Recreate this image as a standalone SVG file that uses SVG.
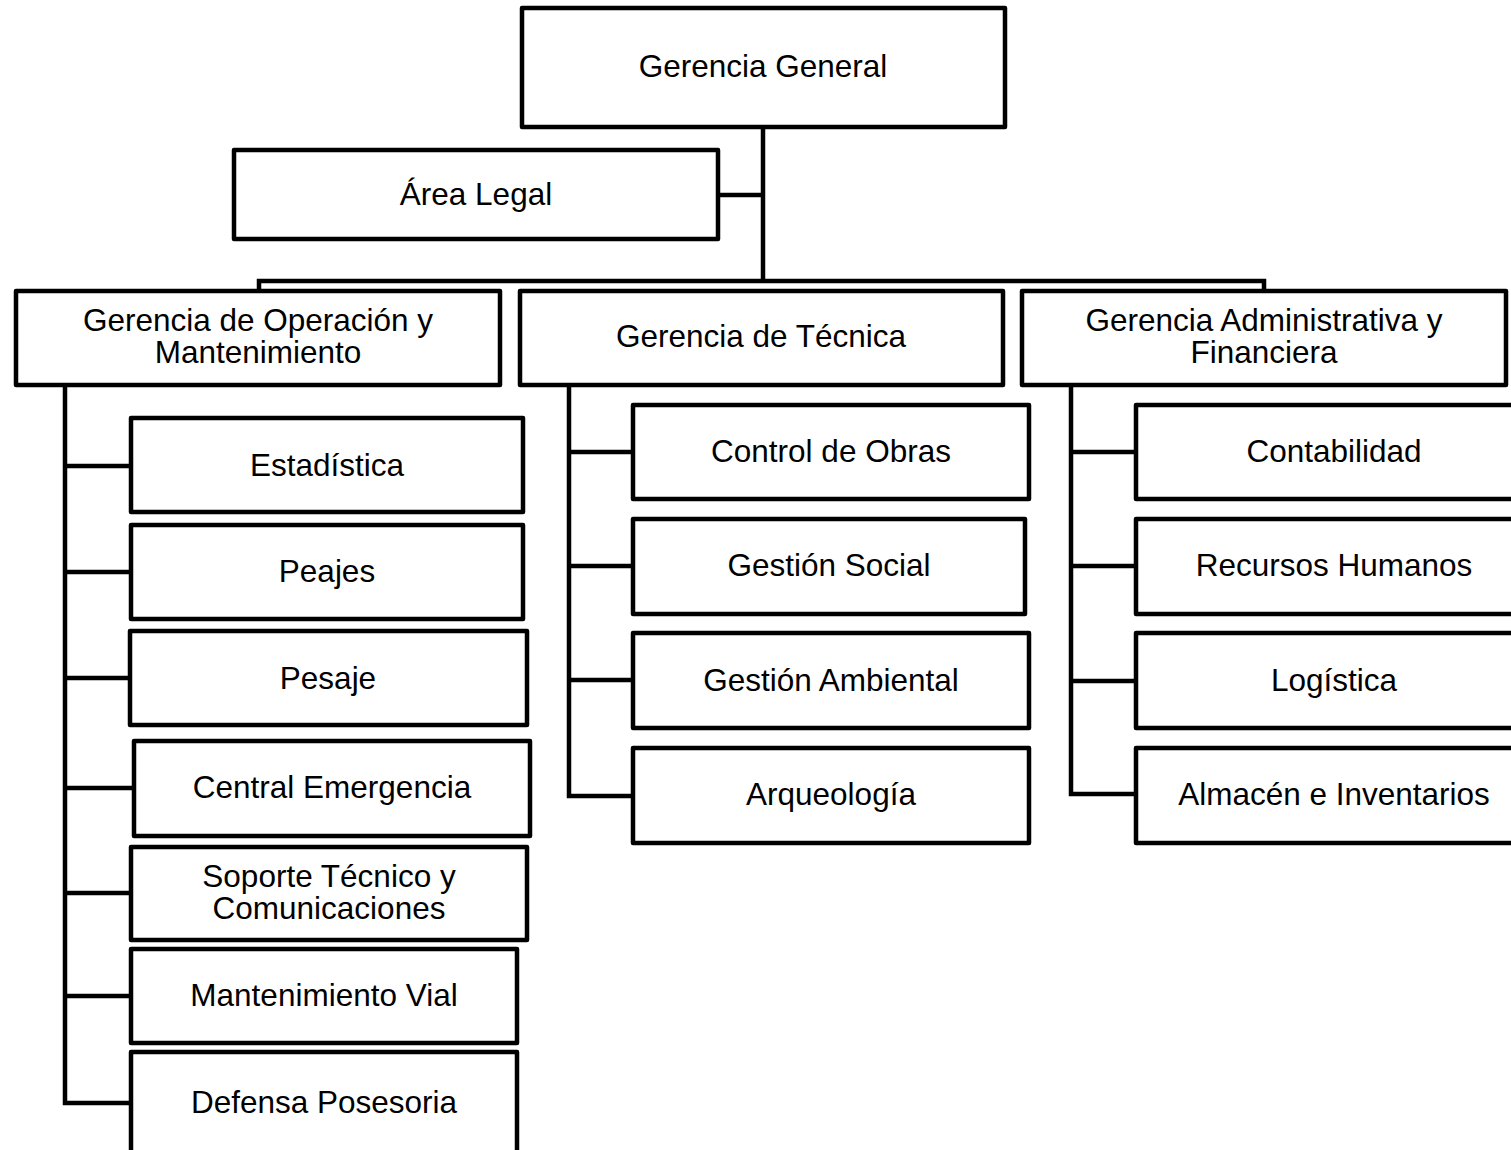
<svg xmlns="http://www.w3.org/2000/svg" width="1511" height="1150" viewBox="0 0 1511 1150">
<style>
.box{fill:#fff;stroke:#000;stroke-width:4.5;stroke-linejoin:round}
.t{font-family:"Liberation Sans",Arial,sans-serif;font-size:31.5px;fill:#000;text-anchor:middle}
.c{fill:none;stroke:#000;stroke-width:4.5;stroke-linecap:square;stroke-linejoin:miter}
</style>
<rect width="1511" height="1150" fill="#fff"/>
<g id="connectors">
<path class="c" d="M763,127 V281 M718,195 H763 M259,290 V281 H1264 V290"/>
<path class="c" d="M65,385 V1103 M65,466 H131 M65,572 H131 M65,678 H130 M65,788 H134 M65,893 H131 M65,996 H131 M65,1103 H131"/>
<path class="c" d="M569,385 V796 M569,452 H633 M569,566 H633 M569,680 H633 M569,796 H633"/>
<path class="c" d="M1071,385 V794 M1071,452 H1136 M1071,566 H1136 M1071,681 H1136 M1071,794 H1136"/>
</g>
<g id="gerencia-general"><rect class="box" x="522" y="8" width="483" height="119"/><text class="t" x="763" y="77">Gerencia General</text></g>
<g id="area-legal"><rect class="box" x="234" y="150" width="484" height="89"/><text class="t" x="476" y="205">Área Legal</text></g>
<g id="gerencia-operacion"><rect class="box" x="16" y="291" width="484" height="94"/><text class="t" x="258" y="331">Gerencia de Operación y</text><text class="t" x="258" y="363">Mantenimiento</text></g>
<g id="gerencia-tecnica"><rect class="box" x="520" y="291" width="483" height="94"/><text class="t" x="761" y="347">Gerencia de Técnica</text></g>
<g id="gerencia-administrativa"><rect class="box" x="1022" y="291" width="484" height="94"/><text class="t" x="1264" y="331">Gerencia Administrativa y</text><text class="t" x="1264" y="363">Financiera</text></g>
<g id="estadistica"><rect class="box" x="131" y="418" width="392" height="94"/><text class="t" x="327" y="476">Estadística</text></g>
<g id="peajes"><rect class="box" x="131" y="525" width="392" height="94"/><text class="t" x="327" y="582">Peajes</text></g>
<g id="pesaje"><rect class="box" x="130" y="631" width="397" height="94"/><text class="t" x="328" y="689">Pesaje</text></g>
<g id="central-emergencia"><rect class="box" x="134" y="741" width="396" height="95"/><text class="t" x="332" y="798">Central Emergencia</text></g>
<g id="soporte-tecnico"><rect class="box" x="131" y="847" width="396" height="93"/><text class="t" x="329" y="887">Soporte Técnico y</text><text class="t" x="329" y="919">Comunicaciones</text></g>
<g id="mantenimiento-vial"><rect class="box" x="131" y="949" width="386" height="94"/><text class="t" x="324" y="1006">Mantenimiento Vial</text></g>
<g id="defensa-posesoria"><rect class="box" x="131" y="1052" width="386" height="120"/><text class="t" x="324" y="1113">Defensa Posesoria</text></g>
<g id="control-obras"><rect class="box" x="633" y="405" width="396" height="94"/><text class="t" x="831" y="462">Control de Obras</text></g>
<g id="gestion-social"><rect class="box" x="633" y="519" width="392" height="95"/><text class="t" x="829" y="576">Gestión Social</text></g>
<g id="gestion-ambiental"><rect class="box" x="633" y="633" width="396" height="95"/><text class="t" x="831" y="691">Gestión Ambiental</text></g>
<g id="arqueologia"><rect class="box" x="633" y="748" width="396" height="95"/><text class="t" x="831" y="805">Arqueología</text></g>
<g id="contabilidad"><rect class="box" x="1136" y="405" width="396" height="94"/><text class="t" x="1334" y="462">Contabilidad</text></g>
<g id="recursos-humanos"><rect class="box" x="1136" y="519" width="396" height="95"/><text class="t" x="1334" y="576">Recursos Humanos</text></g>
<g id="logistica"><rect class="box" x="1136" y="633" width="396" height="95"/><text class="t" x="1334" y="691">Logística</text></g>
<g id="almacen"><rect class="box" x="1136" y="748" width="396" height="95"/><text class="t" x="1334" y="805">Almacén e Inventarios</text></g>
</svg>
